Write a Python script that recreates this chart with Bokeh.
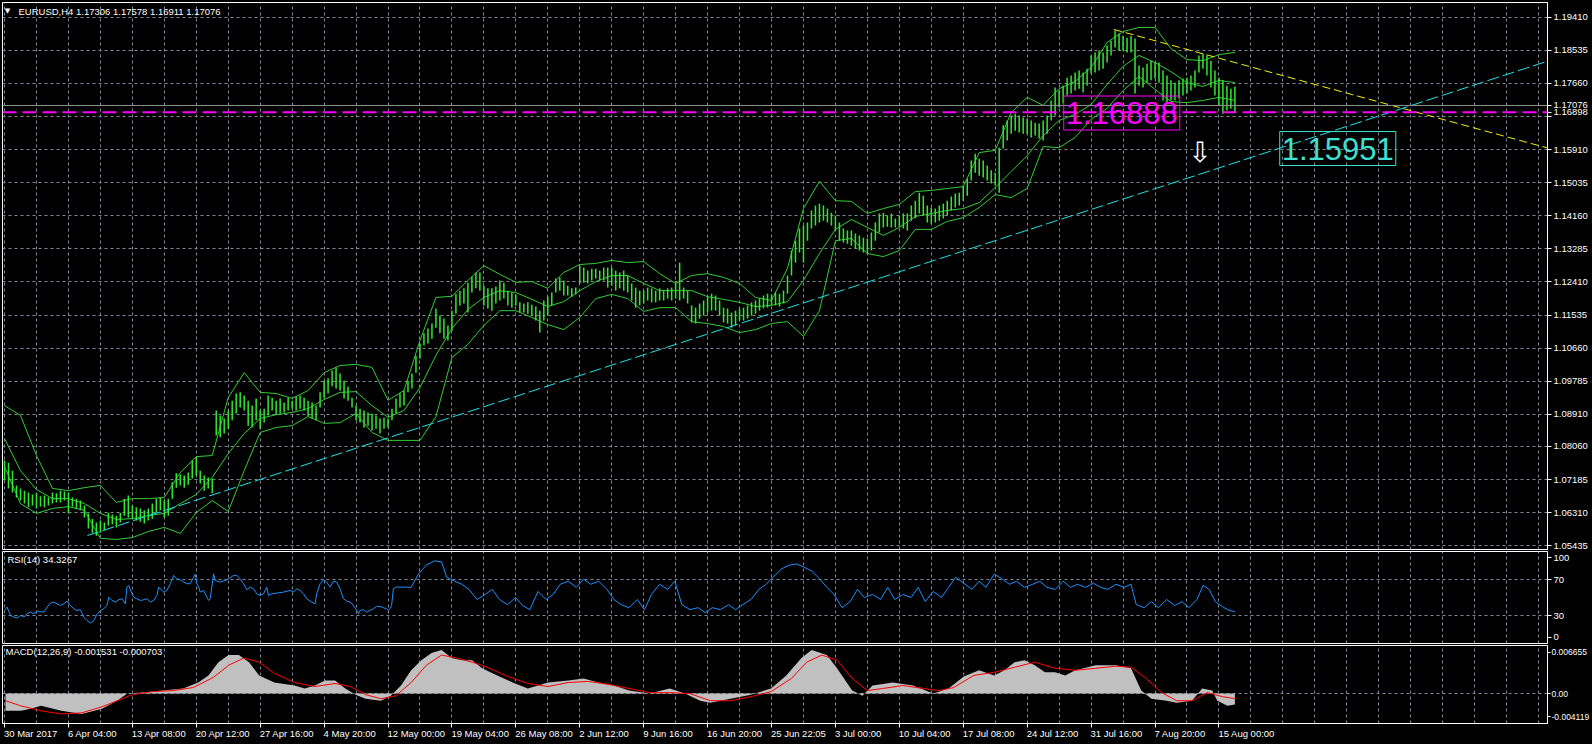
from bokeh.plotting import figure
from bokeh.layouts import column
from bokeh.models import (Range1d, FixedTicker, Grid, Label, Span, ColumnDataSource,
                          CustomJSTickFormatter)
from bokeh.embed import file_html
from bokeh.resources import INLINE

# ------------------------------------------------------------------ data
date_labels = ["30 Mar 2017", "6 Apr 04:00", "13 Apr 08:00", "20 Apr 12:00", "27 Apr 16:00",
               "4 May 20:00", "12 May 00:00", "19 May 04:00", "26 May 08:00", "2 Jun 12:00",
               "9 Jun 16:00", "16 Jun 20:00", "25 Jun 22:05", "3 Jul 00:00", "10 Jul 04:00",
               "17 Jul 08:00", "24 Jul 12:00", "31 Jul 16:00", "7 Aug 20:00", "15 Aug 00:00"]
date_bars = [0, 32, 64, 96, 128, 160, 192, 224, 256, 288, 320, 352, 384, 416, 448,
             480, 512, 544, 576, 608]

price_ticks = [1.05435, 1.06310, 1.07185, 1.08060, 1.08910, 1.09785, 1.10660, 1.11535,
               1.12410, 1.13285, 1.14160, 1.15035, 1.15910, 1.16785, 1.17660, 1.18535, 1.19410]
# RSI / MACD scale labels, drawn (as in the terminal) just inside the window edges
rsi_label_pos = [6.2, 30, 70, 94.4]
rsi_labels = ["0", "30", "70", "100"]
macd_label_pos = [-0.00319, 0.0, 0.00576]
macd_labels = ["-0.004119", "0.00", "0.006655"]

bar_x = list(range(0, 617, 2))
bar_high = [
    1.0769, 1.0763, 1.0742, 1.0703, 1.0695, 1.0689, 1.0684, 1.0679, 1.0682, 1.0674,
    1.0676, 1.0671, 1.0684, 1.0682, 1.0689, 1.0687, 1.0684, 1.0671, 1.0668, 1.0663,
    1.0650, 1.0629, 1.0615, 1.0605, 1.0610, 1.0605, 1.0631, 1.0626, 1.0623, 1.0631,
    1.0668, 1.0676, 1.0650, 1.0645, 1.0642, 1.0637, 1.0642, 1.0655, 1.0668, 1.0671,
    1.0663, 1.0668, 1.0711, 1.0735, 1.0732, 1.0729, 1.0737, 1.0769, 1.0779, 1.0742,
    1.0729, 1.0724, 1.0721, 1.0901, 1.0888, 1.0880, 1.0901, 1.0927, 1.0946, 1.0949,
    1.0941, 1.0927, 1.0914, 1.0933, 1.0901, 1.0906, 1.0941, 1.0935, 1.0927, 1.0933,
    1.0922, 1.0935, 1.0927, 1.0938, 1.0941, 1.0935, 1.0927,
    1.0922, 1.0914, 1.0949, 1.0980, 1.0986, 1.1007, 1.1015, 1.0999, 1.0980, 1.0964,
    1.0935, 1.0914, 1.0906, 1.0901, 1.0896, 1.0893, 1.0888, 1.0880, 1.0882, 1.0880,
    1.0906, 1.0933, 1.0946, 1.0954, 1.0980, 1.0999, 1.1046, 1.1078, 1.1105, 1.1118,
    1.1131, 1.1171, 1.1152, 1.1144, 1.1126, 1.1165, 1.1210, 1.1218, 1.1224, 1.1239,
    1.1255, 1.1266, 1.1266, 1.1231, 1.1224, 1.1224, 1.1229, 1.1245, 1.1239, 1.1218,
    1.1213, 1.1208, 1.1187, 1.1184, 1.1187, 1.1181, 1.1176, 1.1165, 1.1192, 1.1202,
    1.1213, 1.1250, 1.1253, 1.1245, 1.1231, 1.1224, 1.1226, 1.1284, 1.1279, 1.1271,
    1.1276, 1.1276, 1.1271, 1.1279, 1.1279,
    1.1279, 1.1271, 1.1266, 1.1271, 1.1258, 1.1237, 1.1226, 1.1218, 1.1218, 1.1226,
    1.1224, 1.1218, 1.1224, 1.1218, 1.1224, 1.1226, 1.1239, 1.1292, 1.1226, 1.1218,
    1.1179, 1.1173, 1.1184, 1.1192, 1.1202, 1.1210, 1.1205, 1.1192, 1.1173, 1.1171,
    1.1160, 1.1165, 1.1171, 1.1173, 1.1179, 1.1187, 1.1192, 1.1197, 1.1205, 1.1210,
    1.1208, 1.1213, 1.1210, 1.1218, 1.1258, 1.1324, 1.1350, 1.1382, 1.1390, 1.1398,
    1.1430, 1.1443, 1.1448, 1.1443, 1.1435, 1.1424, 1.1417, 1.1398, 1.1382, 1.1377,
    1.1377, 1.1369, 1.1364, 1.1358, 1.1356, 1.1372, 1.1398, 1.1422, 1.1424, 1.1417,
    1.1422, 1.1409, 1.1417, 1.1422, 1.1422,
    1.1443, 1.1456, 1.1477, 1.1469, 1.1443, 1.1438, 1.1435, 1.1443, 1.1448, 1.1456,
    1.1467, 1.1475, 1.1477, 1.1496, 1.1514, 1.1562, 1.1580, 1.1567, 1.1562, 1.1549,
    1.1536, 1.1530, 1.1596, 1.1655, 1.1668, 1.1681, 1.1686, 1.1681, 1.1676, 1.1673,
    1.1668, 1.1662, 1.1660, 1.1668, 1.1681, 1.1721, 1.1755, 1.1747, 1.1760, 1.1781,
    1.1787, 1.1795, 1.1800, 1.1795, 1.1805, 1.1840, 1.1848, 1.1853, 1.1848, 1.1866,
    1.1879, 1.1906, 1.1898, 1.1892, 1.1887, 1.1892, 1.1885, 1.1813, 1.1808, 1.1818,
    1.1826, 1.1821, 1.1821, 1.1800, 1.1787, 1.1774, 1.1768, 1.1774, 1.1779, 1.1781,
    1.1787, 1.1800, 1.1840, 1.1845, 1.1840, 1.1826, 1.1800, 1.1781, 1.1774, 1.1760,
    1.1752, 1.1758]
bar_low = [
    1.0716, 1.0695, 1.0684, 1.0671, 1.0663, 1.0655, 1.0645, 1.0650, 1.0642, 1.0647,
    1.0645, 1.0650, 1.0655, 1.0658, 1.0658, 1.0663, 1.0629, 1.0647, 1.0642, 1.0637,
    1.0618, 1.0589, 1.0578, 1.0570, 1.0578, 1.0584, 1.0597, 1.0600, 1.0592, 1.0605,
    1.0623, 1.0618, 1.0615, 1.0610, 1.0607, 1.0602, 1.0610, 1.0615, 1.0631, 1.0637,
    1.0618, 1.0623, 1.0668, 1.0697, 1.0703, 1.0697, 1.0705, 1.0721, 1.0729, 1.0708,
    1.0689, 1.0695, 1.0682, 1.0835, 1.0830, 1.0840, 1.0853, 1.0875, 1.0893, 1.0909,
    1.0901, 1.0861, 1.0856, 1.0875, 1.0853, 1.0869, 1.0888, 1.0901, 1.0890, 1.0893,
    1.0896, 1.0901, 1.0906, 1.0901, 1.0906, 1.0901, 1.0885,
    1.0880, 1.0875, 1.0909, 1.0935, 1.0946, 1.0965, 1.0959, 1.0954, 1.0933, 1.0927,
    1.0909, 1.0875, 1.0869, 1.0856, 1.0861, 1.0848, 1.0853, 1.0840, 1.0853, 1.0856,
    1.0875, 1.0893, 1.0909, 1.0914, 1.0949, 1.0959, 1.1001, 1.1038, 1.1073, 1.1078,
    1.1091, 1.1120, 1.1105, 1.1091, 1.1086, 1.1112, 1.1157, 1.1179, 1.1184, 1.1160,
    1.1213, 1.1224, 1.1218, 1.1179, 1.1171, 1.1165, 1.1184, 1.1192, 1.1197, 1.1179,
    1.1173, 1.1179, 1.1160, 1.1160, 1.1157, 1.1152, 1.1139, 1.1107, 1.1139, 1.1152,
    1.1179, 1.1213, 1.1218, 1.1205, 1.1205, 1.1202, 1.1208, 1.1237, 1.1239, 1.1237,
    1.1245, 1.1250, 1.1245, 1.1245, 1.1226,
    1.1231, 1.1218, 1.1224, 1.1218, 1.1213, 1.1192, 1.1173, 1.1179, 1.1184, 1.1192,
    1.1187, 1.1187, 1.1192, 1.1192, 1.1197, 1.1192, 1.1197, 1.1192, 1.1197, 1.1184,
    1.1134, 1.1131, 1.1144, 1.1152, 1.1160, 1.1165, 1.1165, 1.1152, 1.1134, 1.1131,
    1.1120, 1.1126, 1.1139, 1.1139, 1.1144, 1.1152, 1.1157, 1.1165, 1.1171, 1.1173,
    1.1179, 1.1179, 1.1176, 1.1184, 1.1210, 1.1258, 1.1292, 1.1319, 1.1292, 1.1350,
    1.1382, 1.1390, 1.1398, 1.1403, 1.1398, 1.1390, 1.1377, 1.1350, 1.1345, 1.1342,
    1.1337, 1.1329, 1.1324, 1.1319, 1.1316, 1.1324, 1.1350, 1.1372, 1.1385, 1.1387,
    1.1385, 1.1385, 1.1387, 1.1382, 1.1377,
    1.1403, 1.1409, 1.1422, 1.1417, 1.1398, 1.1395, 1.1398, 1.1403, 1.1409, 1.1417,
    1.1430, 1.1438, 1.1443, 1.1456, 1.1469, 1.1509, 1.1530, 1.1522, 1.1517, 1.1509,
    1.1501, 1.1496, 1.1477, 1.1594, 1.1615, 1.1633, 1.1641, 1.1636, 1.1633, 1.1633,
    1.1623, 1.1628, 1.1620, 1.1615, 1.1633, 1.1668, 1.1681, 1.1702, 1.1713, 1.1734,
    1.1739, 1.1747, 1.1752, 1.1742, 1.1760, 1.1792, 1.1795, 1.1800, 1.1805, 1.1821,
    1.1840, 1.1861, 1.1853, 1.1853, 1.1848, 1.1848, 1.1739, 1.1760, 1.1755, 1.1768,
    1.1774, 1.1779, 1.1768, 1.1721, 1.1713, 1.1721, 1.1721, 1.1726, 1.1734, 1.1739,
    1.1747, 1.1755, 1.1795, 1.1805, 1.1787, 1.1755, 1.1734, 1.1707, 1.1686, 1.1694,
    1.1699, 1.1691]

bb_x = list(range(0, 617, 8))
bb_upper = [
    1.0914, 1.0888, 1.0782, 1.0695, 1.0689, 1.0697, 1.0703, 1.0658, 1.0668, 1.0668,
    1.0671, 1.0737, 1.0779, 1.0782, 1.0935, 1.1001, 1.0949, 1.0946, 1.0933, 1.0954,
    1.1001, 1.1020, 1.1023, 1.1015, 1.0928, 1.0954, 1.1086, 1.1200, 1.1203, 1.1245,
    1.1284, 1.1261, 1.1240, 1.1242, 1.1224, 1.1266, 1.1287, 1.1290, 1.1298, 1.1292,
    1.1295, 1.1263, 1.1237, 1.1258, 1.1263, 1.1253, 1.1237, 1.1200, 1.1192, 1.1277,
    1.1435, 1.1507, 1.1456, 1.1454, 1.1422, 1.1435, 1.1446, 1.1480, 1.1483, 1.1488,
    1.1493, 1.1583, 1.1589, 1.1689, 1.1729, 1.1708, 1.1752, 1.1771, 1.1808, 1.1874,
    1.1903, 1.1914, 1.1914, 1.1858, 1.1829, 1.1826, 1.1842, 1.1848]
bb_mid = [
    1.0827, 1.0742, 1.0692, 1.0668, 1.0668, 1.0655, 1.0629, 1.0613, 1.0615, 1.0623,
    1.0629, 1.0655, 1.0679, 1.0724, 1.0787, 1.0840, 1.0880, 1.0890, 1.0896, 1.0906,
    1.0930, 1.0949, 1.0951, 1.0914, 1.0883, 1.0901, 1.0962, 1.1047, 1.1118, 1.1168,
    1.1200, 1.1218, 1.1213, 1.1195, 1.1176, 1.1189, 1.1218, 1.1242, 1.1258, 1.1258,
    1.1237, 1.1218, 1.1218, 1.1218, 1.1202, 1.1195, 1.1187, 1.1176, 1.1179, 1.1189,
    1.1245, 1.1316, 1.1380, 1.1406, 1.1385, 1.1364, 1.1385, 1.1414, 1.1422, 1.1430,
    1.1435, 1.1451, 1.1491, 1.1533, 1.1575, 1.1628, 1.1668, 1.1684, 1.1710, 1.1763,
    1.1811, 1.1840, 1.1821, 1.1797, 1.1768, 1.1758, 1.1774, 1.1768]
bb_lower = [
    1.0753, 1.0655, 1.0629, 1.0642, 1.0647, 1.0637, 1.0563, 1.0560, 1.0565, 1.0581,
    1.0592, 1.0576, 1.0631, 1.0663, 1.0634, 1.0742, 1.0843, 1.0856, 1.0861, 1.0885,
    1.0867, 1.0869, 1.0893, 1.0843, 1.0822, 1.0822, 1.0822, 1.0885, 1.1041, 1.1076,
    1.1126, 1.1165, 1.1165, 1.1147, 1.1128, 1.1115, 1.1147, 1.1197, 1.1208, 1.1197,
    1.1163, 1.1173, 1.1173, 1.1136, 1.1131, 1.1123, 1.1107, 1.1115, 1.1131, 1.1136,
    1.1097, 1.1165, 1.1350, 1.1356, 1.1316, 1.1308, 1.1324, 1.1380, 1.1380, 1.1401,
    1.1411, 1.1438, 1.1472, 1.1464, 1.1488, 1.1599, 1.1596, 1.1623, 1.1671, 1.1700,
    1.1747, 1.1784, 1.1750, 1.1718, 1.1715, 1.1721, 1.1729, 1.1721]

# trend lines (bar index, price) and horizontal levels
cyan_bar = [41.5, 772.5]
cyan_price = [1.05705, 1.18247]
yellow_bar = [555.5, 772.5]
yellow_price = [1.19085, 1.15952]
last_close = 1.17076
level_price = 1.16898

rsi_bar = [0, 1.3, 3, 4.7, 6.3, 8, 9.7, 11.3, 13, 14.7, 16.3, 18, 19.7, 21.3, 23, 24.7, 26.3,
           28, 29.7, 31.3, 33, 34.7, 36.3, 38, 39.7, 41.3, 43, 44.7, 46.3, 48, 49.7, 51.3, 52.2,
           53.8, 55.5, 57.2, 58.8, 60.5, 61.3, 62.2, 63.8, 64.7, 66.3, 68, 69.7, 71.3, 73, 74.7,
           76.3, 77.2, 78, 79.7, 81.3, 83, 84.7, 86.3, 88, 89.7, 91.3, 93, 94.7, 95.5, 96.3, 97.2,
           98, 99.7, 101.3, 102.2, 103, 103.8, 104.7, 105.5, 108, 111.3, 114.7, 116.3, 118, 119.7,
           121.3, 123, 124.7, 126.3, 128, 129.7, 131.3, 132.2, 133.8, 136.3, 139.7, 143, 144.7,
           146.3, 148, 149.7, 151.3, 153.8, 155.5, 156.3, 158, 159.7, 161.3, 163, 164.7, 166.3,
           168, 169.7, 171.3, 173, 174.7, 176.3, 177.2, 178, 179.7, 181.3, 183, 184.7, 186.3, 188,
           189.7, 191.3, 192.2, 193, 193.8, 194.7, 196.3, 198,
           203.6, 207.2, 211.2, 215.3, 218.8, 221.4, 225.4, 229.0, 232.5, 236.6, 240.7, 244.2,
           247.8, 251.8, 255.9, 259.4, 263.0, 267.1, 271.1, 274.7, 278.2, 282.3, 286.3, 289.9,
           293.5, 297.5, 301.6, 305.1, 308.7, 312.7, 316.8, 320.4, 323.9, 328.0, 332.0, 335.6,
           339.1, 343.2, 347.3, 350.8, 354.4, 358.4, 362.5, 366.0, 369.6, 373.7, 377.7, 381.3,
           384.8, 388.9, 393.0, 396.5, 400.1, 404.1, 408.2, 411.7, 415.3, 419.3, 423.4, 427.0,
           430.5, 434.6, 438.6, 442.2, 445.7, 449.8, 453.9, 457.4, 461.0, 465.0, 469.1, 472.7,
           476.2, 480.3, 484.3, 487.9, 491.4, 495.5, 499.6, 503.1, 506.7, 510.7, 514.8, 518.3,
           521.9, 526.0, 530.0, 533.6, 537.1, 541.2, 545.2, 548.8, 552.4, 556.4, 560.5, 564.0,
           566.6, 570.6, 574.2, 577.7, 581.8, 585.9, 589.4, 593.0, 597.0, 600.1, 603.1, 606.2,
           609.7, 612.3, 616.0]
rsi_val = [35.9, 39.6, 30.4, 28.5, 27.4, 30.4, 28.5, 32.2, 34.1, 32.2, 35.2, 34.8, 34.1, 39.6,
           44.1, 45.2, 43.3, 41.5, 43.3, 46.3, 41.5, 37.8, 35.9, 36.7, 28.5, 24.8, 21.9, 24.8,
           31.5, 35.9, 37.8, 41.5, 50.7, 47.0, 45.2, 47.8, 48.9, 43.3, 61.9, 63.7, 54.4, 50.7,
           48.9, 47.0, 47.8, 48.9, 45.2, 47.0, 52.6, 61.9, 60.0, 56.3, 58.1, 65.6, 74.8, 71.1,
           70.0, 67.4, 65.6, 65.6, 73.0, 75.9, 65.6, 61.9, 56.3, 58.1, 50.7, 47.0, 48.9, 61.9,
           76.7, 69.3, 67.4, 70.0, 74.8, 74.8, 71.1, 65.6, 58.9, 61.9, 60.0, 54.4, 52.6, 54.4,
           61.9, 52.6, 54.4, 55.2, 56.3, 58.1, 56.3, 60.0, 58.1, 54.4, 48.9, 45.2, 43.3, 54.4,
           65.6, 70.0, 67.4, 61.9, 68.5, 67.4, 60.0, 48.9, 46.3, 45.2, 41.5, 35.9, 32.2, 35.9,
           36.7, 34.1, 35.9, 37.8, 40.4, 40.4, 38.9, 37.8, 35.9, 37.8, 41.5, 60.0, 61.9, 61.9,
           61.6, 76.3, 86.4, 91.0, 89.9, 72.9, 68.4, 65.0, 59.3, 48.1, 53.7, 59.3,
           48.1, 42.4, 50.3, 41.3, 36.8, 57.1, 48.1, 53.7, 65.0, 68.4, 61.6, 70.7,
           65.0, 68.4, 59.3, 48.1, 42.4, 39.0, 48.1, 36.8, 53.7, 65.0, 59.3, 68.4,
           42.4, 36.8, 39.0, 33.4, 39.0, 36.8, 42.4, 36.8, 42.4, 48.1, 59.3, 65.0,
           72.9, 81.9, 86.4, 87.6, 84.2, 79.7, 70.7, 61.6, 53.7, 39.0, 45.8, 59.3,
           50.3, 53.7, 48.1, 61.6, 48.1, 53.7, 50.3, 61.6, 45.8, 57.1, 50.3, 61.6,
           72.9, 66.1, 59.3, 68.4, 61.6, 76.3, 70.7, 65.0, 68.4, 61.6, 65.0, 68.4,
           61.6, 59.3, 68.4, 61.6, 65.0, 61.6, 66.1, 61.6, 59.3, 65.0, 61.6, 65.0,
           42.4, 39.0, 45.8, 39.0, 48.1, 41.3, 45.8, 39.0, 48.1, 63.9, 59.3, 45.8,
           40.2, 36.8, 34.3]

macd_bar = [0.5, 8.2, 13.2, 18.3, 28.5, 38.6, 48.8, 56.4, 61.5, 69.1, 79.2, 89.4, 97, 102.1,
            107.1, 112.2, 117.3, 122.4, 127.5, 135.1, 145.2, 150.3, 155.4, 160.4, 165.5, 170.6,
            175.7, 180.8, 188.4, 193.4, 198.5, 203.6, 208.7, 213.8, 218.8, 223.9, 229, 234.1,
            239.1, 246.7, 254.4, 262, 272.1, 282.3, 289.9, 297.5, 305.1, 312.7, 322.9, 333,
            340.7, 348.3, 353.4, 363.5, 373.7, 383.8, 391.4, 399, 404.1, 411.7, 416.8, 424.4,
            429.5, 434.6, 444.7, 454.9, 465, 472.6, 480.3, 487.9, 495.5, 500.6, 505.7, 510.7,
            515.8, 520.9, 526, 531, 536.1, 546.3, 556.4, 564, 569.1, 574.2, 581.8, 586.9, 594.5,
            599.6, 604.6, 607.2, 612.3, 616]
macd_hist = [-0.00240, -0.00240, -0.00212, -0.00170, -0.00240, -0.00283, -0.00212, -0.00099,
             0.0, 0.00014, 0.00042, 0.00071, 0.00155, 0.00254, 0.00438, 0.00537, 0.00537,
             0.00438, 0.00254, 0.00155, 0.00113, 0.00071, 0.00113, 0.00184, 0.00184, 0.00071,
             -0.00014, -0.00071, -0.00099, -0.00028, 0.00113, 0.00325, 0.00466, 0.00565,
             0.00608, 0.00495, 0.00466, 0.00466, 0.00353, 0.00254, 0.00155, 0.00071, 0.00155,
             0.00184, 0.00212, 0.00155, 0.00113, 0.00042, 0.0, 0.00071, 0.0, -0.00099, -0.00127,
             -0.00071, -0.00014, 0.00071, 0.00254, 0.00495, 0.00608, 0.00537, 0.00353, 0.00042,
             -0.00028, 0.00113, 0.00155, 0.00113, 0.0, 0.00071, 0.00240, 0.00325, 0.00254,
             0.00325, 0.00438, 0.00466, 0.00396, 0.00297, 0.00297, 0.00254, 0.00325, 0.00396,
             0.00396, 0.00353, 0.00042, -0.00071, -0.00099, -0.00127, -0.00099, 0.00071,
             0.00042, -0.00099, -0.00170, -0.00153]
sig_bar = [0.5, 8.2, 18.3, 28.5, 38.6, 48.8, 56.4, 64.0, 74.1, 84.3, 94.5, 104.6, 112.2, 119.8,
           127.5, 135.1, 145.2, 155.4, 165.5, 173.1, 180.8, 188.4, 196.0, 203.6, 211.2, 218.8,
           226.4, 234.1, 241.7, 251.8, 262.0, 272.1, 282.3, 292.4, 302.6, 312.7, 322.9, 333.0,
           343.2, 353.4, 363.5, 373.7, 383.8, 394.0, 401.6, 409.2, 416.8, 424.4, 432.0, 439.6,
           449.8, 460.0, 467.6, 475.2, 485.3, 495.5, 505.7, 515.8, 526.0, 536.1, 546.3, 556.4,
           564.0, 571.6, 579.3, 586.9, 594.5, 602.1, 609.7, 616.0]
sig_val = [-0.00099, -0.00170, -0.00240, -0.00283, -0.00268, -0.00184, -0.00099, -0.00014,
           0.00028, 0.00042, 0.00085, 0.00226, 0.00396, 0.00495, 0.00438, 0.00283, 0.00155,
           0.00099, 0.00141, 0.00099, -0.00014, -0.00071, -0.00028, 0.00155, 0.00396, 0.00537,
           0.00495, 0.00438, 0.00367, 0.00240, 0.00141, 0.00099, 0.00155, 0.00170, 0.00127,
           0.00071, 0.00014, 0.00014, 0.0, -0.00099, -0.00099, -0.00042, 0.00028, 0.00212,
           0.00438, 0.00537, 0.00466, 0.00212, 0.00042, 0.00071, 0.00113, 0.00071, 0.00042,
           0.00085, 0.00254, 0.00297, 0.00367, 0.00438, 0.00353, 0.00325, 0.00353, 0.00382,
           0.00367, 0.00212, 0.00014, -0.00099, -0.00099, 0.00014, -0.00042, -0.00070]

header_text = "EURUSD,H4  1.17306 1.17578 1.16911 1.17076"
rsi_text = "RSI(14) 34.3267"
macd_text = "MACD(12,26,9) -0.001531 -0.000703"

# ------------------------------------------------------------------ layout constants
W = 1592
BL, BR = 2, 43
X0, X1 = -1.0, 772.5
FRAME_W = W - BL - BR
PX_PER_BAR = FRAME_W / (X1 - X0)
FONT = "Liberation Sans"
FS = "9.5px"
GRID_COLOR = "#7d8895"
BAR_GREEN = "#30e830"
BAND_GREEN = "#32cd32"
vgrid = list(range(0, 769, 16))

xr = Range1d(X0, X1)

NEAREST_JS = """
let best = 0, bd = Infinity;
for (let i = 0; i < pos.length; i++) {
  const d = Math.abs(pos[i] - tick);
  if (d < bd) { bd = d; best = i; }
}
return labels[best];
"""


def make_fig(h, y0, y1, top, bottom, xaxis):
    p = figure(width=W, height=h, x_range=xr, y_range=Range1d(y0, y1),
               output_backend="svg", toolbar_location=None, y_axis_location="right",
               x_axis_location="below" if xaxis else None,
               min_border_left=BL, min_border_right=BR,
               min_border_top=top, min_border_bottom=bottom)
    p.background_fill_color = "black"
    p.border_fill_color = "black"
    p.outline_line_color = "white"
    p.outline_line_width = 1
    p.xgrid.visible = False
    p.ygrid.visible = False
    return p


def style_yaxis(p, pos, labels, fs=FS, tick_out=4, standoff=2):
    ax = p.yaxis[0]
    ax.ticker = FixedTicker(ticks=pos)
    ax.formatter = CustomJSTickFormatter(args=dict(pos=pos, labels=labels), code=NEAREST_JS)
    ax.axis_line_color = "white"
    ax.major_tick_line_color = "white"
    ax.major_tick_out = tick_out
    ax.major_tick_in = 0
    ax.minor_tick_line_color = None
    ax.major_label_standoff = standoff
    ax.major_label_text_color = "white"
    ax.major_label_text_font = FONT
    ax.major_label_text_font_size = fs


def add_grids(p, hticks):
    p.add_layout(Grid(dimension=0, ticker=FixedTicker(ticks=vgrid),
                      grid_line_color=GRID_COLOR, grid_line_dash="3 3", grid_line_width=1))
    if hticks:
        p.add_layout(Grid(dimension=1, ticker=FixedTicker(ticks=hticks),
                          grid_line_color=GRID_COLOR, grid_line_dash="3 3", grid_line_width=1))


def mk_label(**kw):
    try:
        return Label(**kw)
    except Exception:
        kw["padding"] = 3
        try:
            return Label(**kw)
        except Exception:
            kw.pop("padding", None)
            return Label(**kw)


# ------------------------------------------------------------------ main price panel
p1 = make_fig(550, 1.05335, 1.19799, 2, 1, False)
add_grids(p1, price_ticks)
axis_pos = price_ticks + [last_close, level_price]
axis_lab = [("" if abs(v - 1.16785) < 1e-9 else "%.5f" % v) for v in price_ticks] + \
           ["%.5f" % last_close, "%.5f" % level_price]
style_yaxis(p1, axis_pos, axis_lab)

n = min(len(bar_x), len(bar_high), len(bar_low))
src = ColumnDataSource(dict(x=bar_x[:n], hi=bar_high[:n], lo=bar_low[:n]))
p1.line(bb_x, bb_upper, line_color=BAND_GREEN, line_width=1)
p1.line(bb_x, bb_mid, line_color=BAND_GREEN, line_width=1)
p1.line(bb_x, bb_lower, line_color=BAND_GREEN, line_width=1)
p1.segment(x0="x", y0="lo", x1="x", y1="hi", source=src, line_color=BAR_GREEN, line_width=1.5)

p1.line(cyan_bar, cyan_price, line_color="#19e3ec", line_width=1, line_dash="12 4")
p1.line(yellow_bar, yellow_price, line_color="#f5f000", line_width=1, line_dash="8 4")
p1.add_layout(Span(location=last_close, dimension="width", line_color="#8f8f8f", line_width=1))
p1.add_layout(Span(location=level_price, dimension="width", line_color="#ff00ff",
                   line_width=2, line_dash="14 6"))

p1.add_layout(mk_label(x=1.5, y=1.19574, text="\u25bc", text_color="white",
                       text_font="DejaVu Sans", text_font_size="7px",
                       text_align="center", text_baseline="middle"))
p1.add_layout(mk_label(x=7, y=1.19574, text=header_text, text_color="white", text_font=FONT,
                       text_font_size=FS, text_align="left", text_baseline="middle"))

p1.add_layout(mk_label(x=559.35, y=1.16877, text="1.16888", text_color="#ff00ff", text_font=FONT,
                       text_font_size="31px", text_align="center", text_baseline="middle",
                       border_line_color="#ff00ff", border_line_width=1, padding=(2, 6)))
p1.add_layout(mk_label(x=667.5, y=1.15938, text="1.15951", text_color="#40e0d0", text_font=FONT,
                       text_font_size="31px", text_align="center", text_baseline="middle",
                       border_line_color="#40e0d0", border_line_width=1, padding=(2, 6)))
p1.add_layout(mk_label(x=598.5, y=1.15833, text="\u21e9", text_color="white",
                       text_font="DejaVu Sans", text_font_size="28px",
                       text_align="center", text_baseline="middle"))

# ------------------------------------------------------------------ RSI panel
p2 = make_fig(94, -0.8, 101.4, 1, 1, False)
add_grids(p2, [30, 70])
style_yaxis(p2, rsi_label_pos, rsi_labels)
p2.line(rsi_bar, rsi_val, line_color="#1e90ff", line_width=1)
p2.add_layout(mk_label(x=1.5, y=92.2, text=rsi_text, text_color="white", text_font=FONT,
                       text_font_size=FS, text_align="left", text_baseline="middle"))

# ------------------------------------------------------------------ MACD panel
p3 = make_fig(100, -0.00416, 0.00670, 1, 21, True)
add_grids(p3, [0.0])
style_yaxis(p3, macd_label_pos, macd_labels, fs="8.5px", tick_out=3, standoff=1)
p3.varea(x=macd_bar, y1=[0.0] * len(macd_bar), y2=macd_hist, fill_color="#c0c0c0")
p3.line(sig_bar, sig_val, line_color="#ff0000", line_width=1)
p3.add_layout(mk_label(x=0.5, y=0.00586, text=macd_text, text_color="white", text_font=FONT,
                       text_font_size=FS, text_align="left", text_baseline="middle"))

# date axis: labels start at their tick mark
cw = {" ": 2.78, ":": 2.78, "M": 8.33, "r": 3.33, "A": 6.67, "y": 5.0, "J": 5.0, "l": 2.22}


def text_w(s):
    return sum(cw.get(c, 5.56) for c in s) * 0.95


centers = [b + (text_w(l) / 2 - 0.5) / PX_PER_BAR for b, l in zip(date_bars, date_labels)]
xa = p3.xaxis[0]
xa.ticker = FixedTicker(ticks=centers, minor_ticks=date_bars)
xa.formatter = CustomJSTickFormatter(args=dict(pos=centers, labels=date_labels), code=NEAREST_JS)
xa.axis_line_color = "white"
xa.major_tick_line_color = None
xa.major_tick_out = 4
xa.major_tick_in = 0
xa.minor_tick_line_color = "white"
xa.minor_tick_out = 4
xa.minor_tick_in = 0
xa.major_label_standoff = 0
xa.major_label_text_color = "white"
xa.major_label_text_font = FONT
xa.major_label_text_font_size = FS

layout = column(p1, p2, p3, spacing=0)
try:
    from bokeh.models import GlobalInlineStyleSheet
    layout.stylesheets = [GlobalInlineStyleSheet(
        css="html, body { margin: 0; padding: 0; background-color: #000000; overflow: hidden; }")]
except Exception:
    pass
layout.styles = {"background-color": "black"}

open("out.html", "w").write(file_html(layout, INLINE))
